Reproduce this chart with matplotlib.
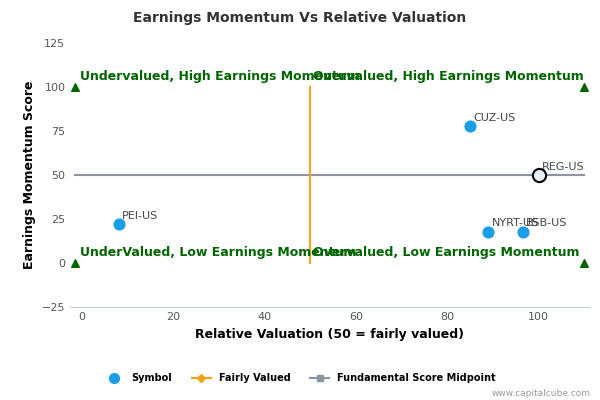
import matplotlib.pyplot as plt
from matplotlib.lines import Line2D

symbols = ["PEI-US", "CUZ-US", "NYRT-US", "BSB-US", "REG-US"]
valuation = [8, 85, 89, 96.5, 100]
momentum = [22, 78, 18, 18, 50]
corner_x = [-1.5, 110, -1.5, 110]
corner_y = [100, 100, 0, 0]
quadrants = [
    (-0.5, 104, "Undervalued, High Earnings Momentum"),
    (50.5, 104, "Overvalued, High Earnings Momentum"),
    (-0.5, 4, "UnderValued, Low Earnings Momentum"),
    (50.5, 4, "Overvalued, Low Earnings Momentum"),
]

fig = plt.figure(figsize=(6, 4), dpi=100)
ax = fig.add_axes([0.117, 0.232, 0.866, 0.66])
ax.set_xlim(-2.6, 111.2)
ax.set_ylim(-25, 125)

ax.plot([-1.5, 110], [50, 50], color="#8c93a3", lw=1.5, zorder=2)
ax.plot([50, 50], [0, 100], color="#f7a11a", lw=1.5, zorder=2)
ax.scatter(corner_x, corner_y, marker="^", color="#006400", s=30, zorder=3)

ax.scatter(valuation[:4], momentum[:4], color="#1a9ee8", s=60, zorder=4)
ax.scatter(valuation[4:], momentum[4:], facecolor="#e8eef5", edgecolor="black", lw=1.5, s=90, zorder=4)
for x, y, s in zip(valuation, momentum, symbols):
    ax.text(x + 0.8, y + 3, s, fontsize=8, color="#444444")

for x, y, s in quadrants:
    ax.text(x, y, s, fontsize=9, color="#006400", fontweight="bold")

ax.set_xticks([0, 20, 40, 60, 80, 100])
ax.set_yticks([-25, 0, 25, 50, 75, 100, 125])
ax.tick_params(labelsize=8, colors="#555555", length=0)
for sp in ["top", "right", "left"]:
    ax.spines[sp].set_visible(False)
ax.spines["bottom"].set_color("#c0d0e0")
ax.set_xlabel("Relative Valuation (50 = fairly valued)", fontsize=9, fontweight="bold")
ax.set_ylabel("Earnings Momentum Score", fontsize=9, fontweight="bold")
fig.text(0.5, 0.945, "Earnings Momentum Vs Relative Valuation", ha="center", fontsize=10, fontweight="bold", color="#333333")

handles = [
    Line2D([], [], marker="o", color="#1a9ee8", ls="", markersize=7),
    Line2D([], [], marker="D", color="#f7a11a", markersize=4, lw=1.5),
    Line2D([], [], marker="s", color="#8c93a3", markersize=5, lw=1.5),
]
fig.legend(handles, ["Symbol", "Fairly Valued", "Fundamental Score Midpoint"], loc="lower center",
           bbox_to_anchor=(0.5, 0.02), ncol=3, frameon=False, prop={"size": 7, "weight": "bold"})
fig.text(0.985, 0.01, "www.capitalcube.com", ha="right", fontsize=6.5, color="#999999")

fig.savefig("out.png")
